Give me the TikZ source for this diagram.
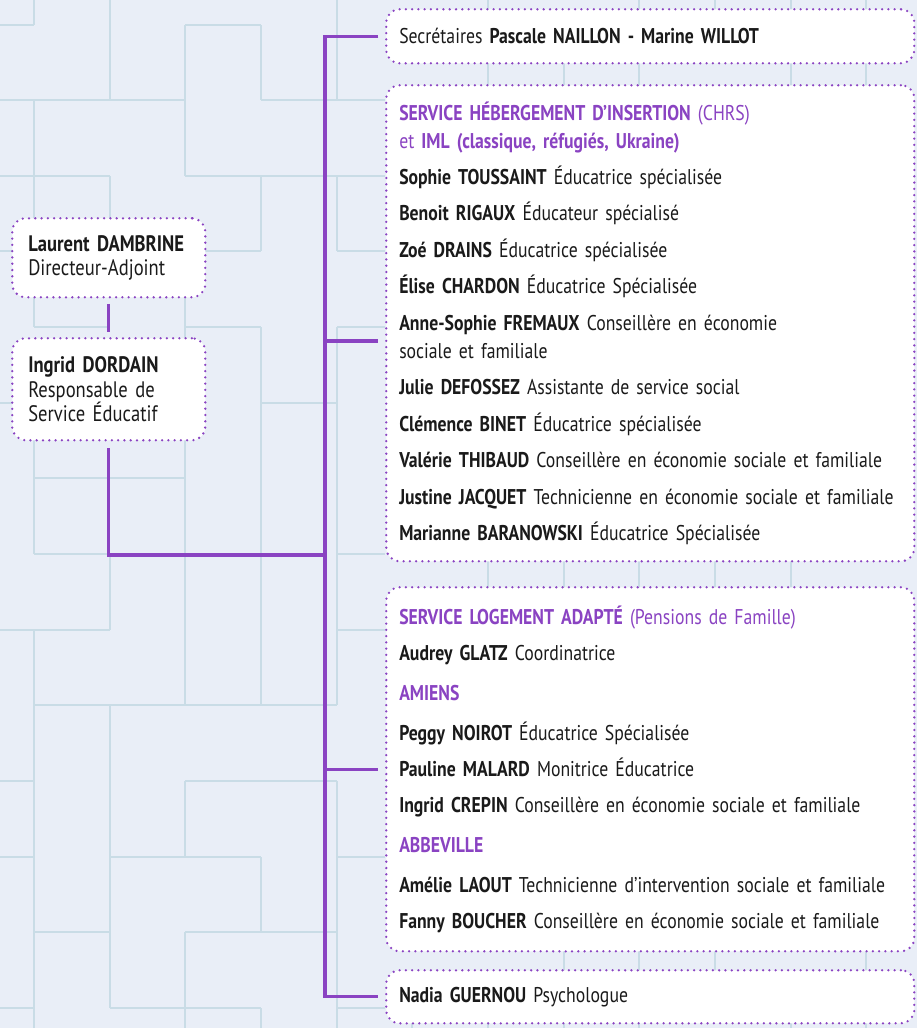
\documentclass[tikz,border=0pt]{standalone}
\usepackage{fontspec}
\setmainfont{PT Sans}[FakeStretch=0.83]
\usetikzlibrary{positioning,calc}
\definecolor{paper}{HTML}{E9EEF7}
\definecolor{gridline}{HTML}{C9DCE6}
\definecolor{lilac}{HTML}{8A43C2}
\definecolor{ink}{HTML}{1A1A1A}
\newcommand{\hdr}[1]{\textcolor{lilac}{\textbf{#1}}}
\newcommand{\nom}[1]{\textbf{#1}}
\tikzset{
  card/.style={
    draw=lilac, fill=white, line width=1.9pt,
    dash pattern=on 0pt off 4.7pt, line cap=round,
    rounded corners=10pt, anchor=north west, align=left,
    inner xsep=9.75pt, inner ysep=0pt, text=ink,
    font=\fontsize{16}{21}\selectfont
  },
  wide/.style={card, text width=376.5pt, minimum width=396pt},
  narrow/.style={
    card, text width=120.75pt, minimum width=144.75pt,
    inner xsep=12pt, font=\fontsize{16.8}{18.5}\selectfont
  },
  link/.style={draw=lilac, line width=2.3pt},
  maze/.style={draw=gridline, line width=0.9pt}
}
\begin{document}
\begin{tikzpicture}[x=0.75pt, y=-0.75pt]
  \useasboundingbox (0,0) rectangle (917,1028);
  \fill[paper] (0,0) rectangle (917,1028);
  % background pattern
  \foreach \xa/\ya/\xb/\yb in {34/0/34/25, 0/25/34/25, 110/0/110/100,
      0/100/185/100, 337/0/337/100, 261/100/385/100, 185/25/261/25,
      185/25/185/176, 261/25/261/100, 34/100/34/327, 0/176/110/176,
      110/176/110/251, 185/176/385/176, 261/176/261/251, 185/251/261/251,
      337/176/337/251, 337/251/385/251, 0/251/34/251, 34/327/110/327,
      185/251/185/705, 185/327/261/327, 261/327/261/554, 0/403/34/403,
      261/403/337/403, 34/403/34/554, 34/478/185/478, 34/554/110/554,
      110/554/110/630, 0/630/110/630, 34/630/34/1028, 34/705/337/705,
      261/554/261/705, 110/705/110/1008, 0/781/34/781, 185/781/337/781,
      185/781/185/857, 0/857/34/857, 110/857/261/857, 261/857/261/932,
      34/932/110/932, 185/932/337/932, 185/932/185/1028, 0/1008/34/1008,
      110/1008/261/1008, 261/1008/261/1028, 337/327/385/327,
      337/327/337/705, 337/554/385/554, 337/630/385/630, 337/781/337/1028,
      337/857/385/857, 337/1008/385/1008}
    \draw[maze] (\xa,\ya) -- (\xb,\yb);
  \foreach \xa in {488,639,715,791,866} \draw[maze] (\xa,0) -- (\xa,10);
  \foreach \xa in {488,564,639,791,866} \draw[maze] (\xa,60) -- (\xa,86);
  \foreach \xa in {488,564,639,715,791} \draw[maze] (\xa,558) -- (\xa,588);
  \foreach \xa in {564,639,715,866} \draw[maze] (\xa,948) -- (\xa,971);
  \foreach \xa in {412,488,564,639,791,866} \draw[maze] (\xa,1020) -- (\xa,1028);

  % left column
  \node[narrow, minimum height=59.25pt] (lead) at (11,217)
    {\nom{Laurent DAMBRINE}\\Directeur-Adjoint};
  \node[narrow, minimum height=76.5pt] (resp) at (11,337)
    {\nom{Ingrid DORDAIN}\\Responsable de\\Service Éducatif};

  % right column
  \node[wide, minimum height=40.5pt] (secr) at (385,8)
    {Secrétaires \nom{Pascale NAILLON - Marine WILLOT}};
  \node[wide, minimum height=357pt] (heberg) at (385,84)
    {\hdr{SERVICE HÉBERGEMENT D’INSERTION} \textcolor{lilac}{(CHRS)}\\
     \textcolor{lilac}{et \textbf{IML (classique, réfugiés, Ukraine)}}\\[6pt]
     \nom{Sophie TOUSSAINT} Éducatrice spécialisée\\[6.4pt]
     \nom{Benoit RIGAUX} Éducateur spécialisé\\[6.4pt]
     \nom{Zoé DRAINS} Éducatrice spécialisée\\[6.4pt]
     \nom{Élise CHARDON} Éducatrice Spécialisée\\[6.4pt]
     \nom{Anne-Sophie FREMAUX} Conseillère en économie\\
     sociale et familiale\\[6.4pt]
     \nom{Julie DEFOSSEZ} Assistante de service social\\[6.4pt]
     \nom{Clémence BINET} Éducatrice spécialisée\\[6.4pt]
     \nom{Valérie THIBAUD} Conseillère en économie sociale et familiale\\[6.4pt]
     \nom{Justine JACQUET} Technicienne en économie sociale et familiale\\[6.4pt]
     \nom{Marianne BARANOWSKI} Éducatrice Spécialisée};
  \node[wide, minimum height=273pt] (logement) at (385,586)
    {\hdr{SERVICE LOGEMENT ADAPTÉ} \textcolor{lilac}{(Pensions de Famille)}\\[6pt]
     \nom{Audrey GLATZ} Coordinatrice\\[9pt]
     \hdr{AMIENS}\\[9pt]
     \nom{Peggy NOIROT} Éducatrice Spécialisée\\[6pt]
     \nom{Pauline MALARD} Monitrice Éducatrice\\[6pt]
     \nom{Ingrid CREPIN} Conseillère en économie sociale et familiale\\[9pt]
     \hdr{ABBEVILLE}\\[9pt]
     \nom{Amélie LAOUT} Technicienne d’intervention sociale et familiale\\[6pt]
     \nom{Fanny BOUCHER} Conseillère en économie sociale et familiale};
  \node[wide, minimum height=39.75pt] (nadia) at (385,969)
    {\nom{Nadia GUERNOU} Psychologue};

  % connectors
  \coordinate (spine) at (325,0);
  \coordinate (hebtick) at (325,341);
  \coordinate (join) at (325,555);
  \draw[link, shorten <=4pt, shorten >=4pt] (lead) -- (resp);
  \draw[link, shorten <=5pt] (resp.south) |- (join);
  \draw[link, shorten <=5pt, shorten >=5pt] (secr.west) -| (spine |- nadia.west) -- (nadia.west);
  \draw[link, shorten >=5pt] (hebtick) -- (heberg.west |- hebtick);
  \draw[link, shorten >=5pt] (spine |- logement.west) -- (logement.west);
\end{tikzpicture}
\end{document}
